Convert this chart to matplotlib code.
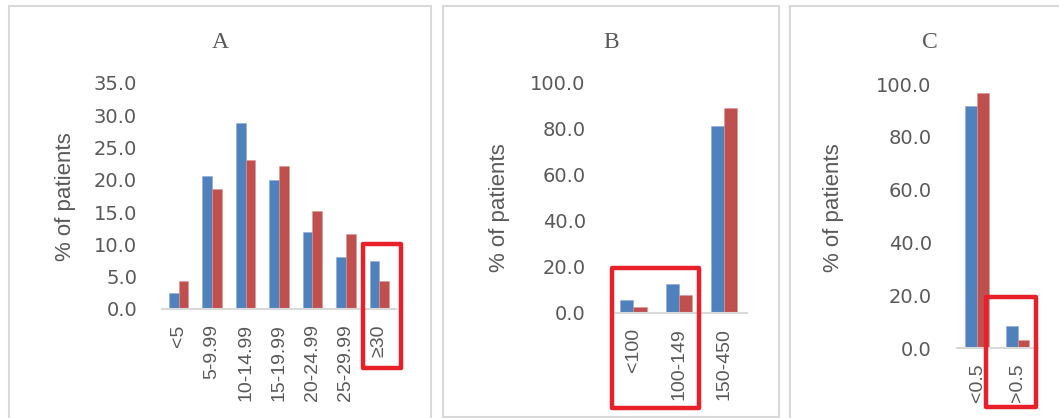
import matplotlib
matplotlib.use("Agg")
import matplotlib.pyplot as plt
from matplotlib.patches import Rectangle
import numpy as np

# ---- data ----
cats_a = ["<5", "5-9.99", "10-14.99", "15-19.99", "20-24.99", "25-29.99", "≥30"]
blue_a = [2.5, 20.6, 28.8, 20.0, 11.9, 8.1, 7.5]
red_a = [4.4, 18.6, 23.1, 22.2, 15.1, 11.6, 4.4]

cats_b = ["<100", "100-149", "150-450"]
blue_b = [5.5, 12.5, 81.0]
red_b = [2.5, 7.7, 88.9]

cats_c = ["<0.5", ">0.5"]
blue_c = [91.5, 8.3]
red_c = [96.7, 3.2]

titles = ["A", "B", "C"]
ymax = [35, 100, 100]
ystep = [5, 20, 20]

BLUE = "#4F81BD"
RED = "#C0504D"
GRAY = "#595959"
FRAME = "#D9D9D9"
HILITE = "#E8202A"

W, H = 1059, 418
fig = plt.figure(figsize=(W / 100, H / 100), dpi=100)

def px_rect(x0, y0, x1, y1):
    return [x0 / W, 1 - y1 / H, (x1 - x0) / W, (y1 - y0) / H]

# panel frames (pixel coords of the frames)
frames = [(9, 6, 431, 430), (443, 6, 779, 417), (790, 6, 1075, 430)]
for (x0, y0, x1, y1) in frames:
    fig.patches.append(Rectangle((x0 / W, 1 - y1 / H), (x1 - x0) / W, (y1 - y0) / H,
                                 transform=fig.transFigure, fill=False,
                                 edgecolor=FRAME, linewidth=1.5, zorder=0))

axes_px = [(162, 83, 396, 309), (610.7, 82.7, 746.7, 312.7), (956.7, 84, 1038, 348)]
title_px = [(220, 42), (611, 42), (930, 42)]
ylabel_px = [(65, 197), (500, 208), (833, 208)]

# highlight boxes: (x_left, x_right) in category units, (y_bottom, y_top) in data units
highlights = [(5.52, 6.65, -9.1, 10.1), (-0.478, 1.448, -41.4, 19.6), (0.213, 1.45, -22.2, 19.4)]

panels = [(cats_a, blue_a, red_a), (cats_b, blue_b, red_b), (cats_c, blue_c, red_c)]
bw = 0.29

for i, (cats, b, r) in enumerate(panels):
    x0, y0, x1, y1 = axes_px[i]
    ax = fig.add_axes(px_rect(x0, y0, x1, y1))
    x = np.arange(len(cats))
    ax.bar(x - bw / 2, b, bw, color=BLUE, edgecolor="#8EAADB", linewidth=0.4, zorder=2)
    ax.bar(x + bw / 2, r, bw, color=RED, edgecolor="#D99694", linewidth=0.4, zorder=2)
    ax.set_xlim(-0.5, len(cats) - 0.5)
    ax.set_ylim(0, ymax[i])
    ax.set_yticks(np.arange(0, ymax[i] + 0.01, ystep[i]))
    ax.set_yticklabels([f"{v:.1f}" for v in np.arange(0, ymax[i] + 0.01, ystep[i])],
                       fontfamily="DejaVu Sans", fontsize=14, color=GRAY)
    ax.set_xticks(x)
    ax.set_xticklabels(cats, rotation=90, fontfamily="Liberation Sans", fontsize=14,
                       color=GRAY, ha="center", va="top")
    ax.tick_params(axis="y", length=0, pad=18)
    ax.tick_params(axis="x", length=0, pad=11)
    for s in ["top", "right", "left"]:
        ax.spines[s].set_visible(False)
    ax.spines["bottom"].set_color(FRAME)
    ax.spines["bottom"].set_linewidth(1.5)
    ax.set_facecolor("none")

    # highlight box
    hx0, hx1, hy0, hy1 = highlights[i]
    ax.add_patch(Rectangle((hx0, hy0), hx1 - hx0, hy1 - hy0, fill=False,
                           edgecolor=HILITE, linewidth=3.2, joinstyle="round",
                           clip_on=False, zorder=5))

    tx, ty = title_px[i]
    fig.text(tx / W, 1 - ty / H, titles[i], fontfamily="Liberation Serif", fontsize=17,
             color=GRAY, ha="center", va="center")
    lx, ly = ylabel_px[i]
    fig.text(lx / W, 1 - ly / H, "% of patients", fontfamily="Liberation Sans", fontsize=16,
             color=GRAY, rotation=90, ha="center", va="center")

fig.savefig("out.png", dpi=100, facecolor="white")
